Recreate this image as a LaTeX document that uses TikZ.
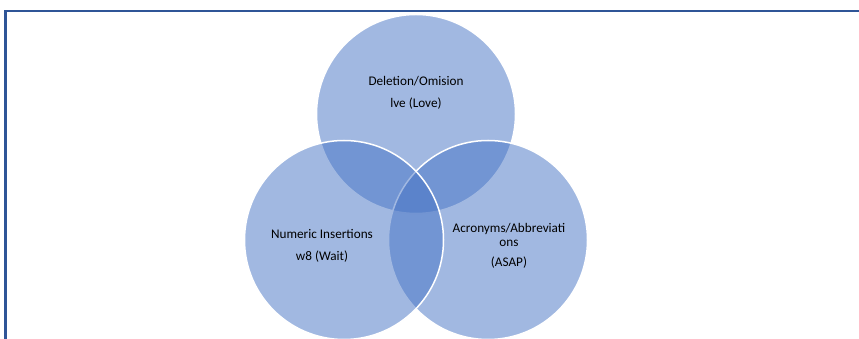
\documentclass[tikz,border=0pt]{standalone}
\usepackage{fontspec}
\setmainfont{Carlito}
\usepackage{xcolor}
\usepackage{tikz}
\usetikzlibrary{positioning}

\definecolor{vennblue}{RGB}{68,114,196}
\definecolor{frameblue}{RGB}{47,85,151}

\begin{document}
\begin{tikzpicture}[
    x=1pt, y=1pt,
    vennset/.style={circle, draw=white, line width=1.5pt, fill=vennblue, fill opacity=0.5, draw opacity=1, minimum size=199pt, inner sep=0pt},
    vennlabel/.style={align=center, font=\fontsize{13.2}{14}\selectfont, text=black, inner sep=0pt},
    frameline/.style={draw=frameblue, line width=2.6pt}
]
\useasboundingbox (0,0) rectangle (859,339);
\clip (0,0) rectangle (859,339);
% outer frame (top and left side only)
\draw[frameline] (5.5,-2) -- (5.5,328) -- (862,328);
% the three sets, drawn top, right, left
\node[vennset] (deletion) at (416,225) {};
\node[vennset] (acronyms) at (488,99) {};
\node[vennset] (numeric) at (344,99) {};
% labels
\node[vennlabel] (deltext) at (416,246) {Deletion/Omision\\[8pt]lve (Love)};
\node[vennlabel] (numtext) at (322,93) {Numeric Insertions\\[8pt]w8 (Wait)};
\node[vennlabel] (acrtext) at (509,93) {Acronyms/Abbreviati\\ons\\[6pt](ASAP)};
\end{tikzpicture}
\end{document}
